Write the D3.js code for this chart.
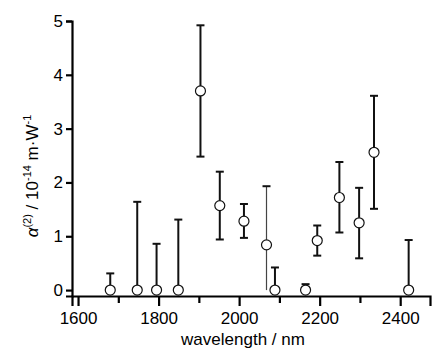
<!DOCTYPE html>
<html>
<head>
<meta charset="utf-8">
<script src="https://cdn.jsdelivr.net/npm/d3@7"></script>
<style>
  body { margin: 0; background: #fff; }
  svg { display: block; font-family: "Liberation Sans", Arial, sans-serif; }
</style>
</head>
<body>
<div id="chart"></div>
<script>
// measured points: wavelength (nm), alpha(2) and error bounds (10^-14 m/W)
const wavelengths = [1680, 1747, 1795, 1849, 1904, 1952, 2012, 2068, 2089, 2165, 2194, 2249, 2298, 2335, 2421];
const alphaValues = [0, 0, 0, 0, 3.70, 1.57, 1.28, 0.84, 0, 0, 0.92, 1.72, 1.25, 2.56, 0];
const upperBounds = [0.31, 1.64, 0.86, 1.31, 4.92, 2.20, 1.60, 1.93, 0.42, 0.11, 1.20, 2.38, 1.90, 3.61, 0.93];
const lowerBounds = [0, 0, 0, 0, 2.48, 0.94, 0.97, 0, 0, 0, 0.64, 1.07, 0.59, 1.51, 0];
const xTicks = [1600, 1700, 1800, 1900, 2000, 2100, 2200, 2300, 2400];
const yTicks = [0, 1, 2, 3, 4, 5];
const thinBars = [2068];

const data = wavelengths.map((w, i) => ({
  w, v: alphaValues[i], hi: upperBounds[i], lo: lowerBounds[i]
}));

const width = 432, height = 350;
const svg = d3.select('#chart').append('svg')
  .attr('width', width)
  .attr('height', height);

const x = d3.scaleLinear().domain([1585, 2474]).range([72, 430]);
const y = d3.scaleLinear().domain([-0.11, 5]).range([296, 21]);

// x axis
const xAxis = svg.append('g')
  .attr('transform', 'translate(0,296)')
  .call(d3.axisBottom(x)
    .tickValues(xTicks)
    .tickSizeOuter(0)
    .tickSize(10)
    .tickFormat(d => d % 200 === 0 ? d : ''));
xAxis.select('.domain').attr('stroke-width', 2.2);
xAxis.selectAll('.tick line')
  .attr('stroke-width', 2.2)
  .attr('y1', 1)
  .attr('y2', d => d % 200 === 0 ? 10 : 7);
xAxis.selectAll('.tick text')
  .attr('y', 16)
  .style('font-size', '17px')
  .attr('fill', '#000');

// y axis
const yAxis = svg.append('g')
  .attr('transform', 'translate(72,0)')
  .call(d3.axisLeft(y)
    .tickValues(yTicks)
    .tickSizeOuter(0)
    .tickSize(6)
    .tickFormat(d3.format('d')));
yAxis.select('.domain').attr('stroke-width', 2.2);
yAxis.selectAll('.tick line').attr('stroke-width', 2.2);
yAxis.selectAll('.tick text')
  .attr('x', -9)
  .style('font-size', '17px')
  .attr('fill', '#000');

// axis titles
svg.append('text')
  .attr('x', 243)
  .attr('y', 345)
  .attr('text-anchor', 'middle')
  .style('font-size', '17px')
  .attr('fill', '#000')
  .text('wavelength / nm');

const yTitle = svg.append('text')
  .attr('transform', 'translate(38,176) rotate(-90)')
  .attr('text-anchor', 'middle')
  .attr('fill', '#000')
  .style('font-size', '17px');
yTitle.append('tspan').style('font-style', 'italic').text('α');
yTitle.append('tspan').attr('dy', -7).style('font-size', '11px').text('(2)');
yTitle.append('tspan').attr('dy', 7).text(' / 10');
yTitle.append('tspan').attr('dy', -7).style('font-size', '11px').text('-14');
yTitle.append('tspan').attr('dy', 7).text(' m·W');
yTitle.append('tspan').attr('dy', -7).style('font-size', '11px').text('-1');

// error bars
const bars = svg.append('g');
data.forEach(d => {
  const thin = thinBars.includes(d.w);
  const g = bars.append('g')
    .attr('stroke', thin ? '#444' : '#111')
    .attr('stroke-width', thin ? 1.2 : 2);
  g.append('line')
    .attr('x1', x(d.w)).attr('x2', x(d.w))
    .attr('y1', y(d.hi)).attr('y2', y(d.v));
  g.append('line')
    .attr('x1', x(d.w) - 4).attr('x2', x(d.w) + 4)
    .attr('y1', y(d.hi)).attr('y2', y(d.hi))
    .attr('stroke', '#111').attr('stroke-width', 2);
  if (d.lo < d.v) {
    g.append('line')
      .attr('x1', x(d.w)).attr('x2', x(d.w))
      .attr('y1', y(d.v)).attr('y2', y(d.lo));
    if (!thin) {
      g.append('line')
        .attr('x1', x(d.w) - 4).attr('x2', x(d.w) + 4)
        .attr('y1', y(d.lo)).attr('y2', y(d.lo));
    }
  }
});

// markers
svg.append('g')
  .selectAll('circle')
  .data(data)
  .join('circle')
  .attr('cx', d => x(d.w))
  .attr('cy', d => y(d.v))
  .attr('r', 5)
  .attr('fill', '#fff')
  .attr('stroke', '#111')
  .attr('stroke-width', 1.2);
</script>
</body>
</html>
